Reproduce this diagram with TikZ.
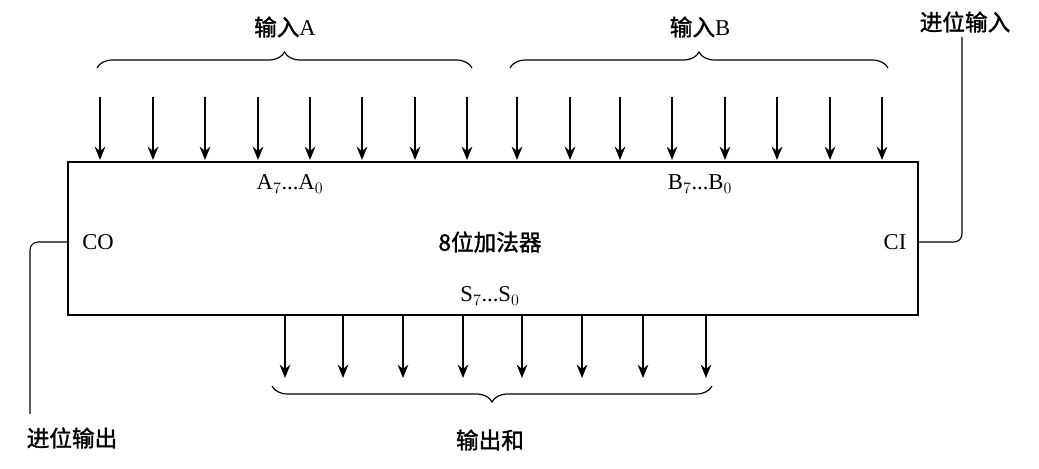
\documentclass[tikz,border=0pt]{standalone}
\usepackage{fontspec}
\setmainfont{Liberation Serif}
\newfontfamily\cjk{Noto Sans CJK SC}[FakeBold=1.5]
\usetikzlibrary{decorations.pathreplacing,arrows.meta}
\begin{document}
\begin{tikzpicture}[x=0.0264cm,y=-0.0264cm,
  inarr/.style={-{Stealth[length=10pt,width=8pt]},line width=1.5pt},
  brc/.style={decorate,decoration={brace,amplitude=12pt},line width=0.9pt},
  lbl/.style={font=\cjk\fontsize{17}{17}\selectfont},
  sig/.style={font=\fontsize{17}{17}\selectfont}]
\useasboundingbox (0,0) rectangle (1039,469);
\node[draw,line width=1.4pt,minimum width=850*0.0264cm,minimum height=153*0.0264cm,inner sep=0] (box) at (493,238.5) {};
\foreach \x [count=\i] in {100,153,205,258,310,362,415,467} {\coordinate (at\i) at (\x,97); \draw[inarr] (at\i) -- (\x,160);}
\foreach \x [count=\i] in {517,570,620,672,725,777,830,882} {\coordinate (bt\i) at (\x,97); \draw[inarr] (bt\i) -- (\x,160);}
\foreach \x [count=\i] in {285,343,403,463,522,582,643,706} {\coordinate (st\i) at (\x,316); \draw[inarr] (st\i) -- (\x,378);}
\coordinate (ba1) at (97,68); \coordinate (ba2) at (472,68);
\coordinate (bb1) at (510,68); \coordinate (bb2) at (888,68);
\coordinate (bs1) at (712,386); \coordinate (bs2) at (272,386);
\draw[brc] (ba1) -- (ba2);
\draw[brc] (bb1) -- (bb2);
\draw[brc] (bs1) -- (bs2);
\node[lbl] (la) at (285,27) {输入\textrm{A}};
\node[lbl] (lb) at (700,27) {输入\textrm{B}};
\node[lbl] (lsum) at (490,440) {输出和};
\node[lbl] (cin) at (965,22) {进位输入};
\node[lbl] (cout) at (72,438) {进位输出};
\node[lbl] (name) at (490,242) {8位加法器};
\node[sig] (ai) at (290,184) {A$_7$...A$_0$};
\node[sig] (bi) at (700,184) {B$_7$...B$_0$};
\node[sig] (si) at (490,296) {S$_7$...S$_0$};
\node[sig] (co) at (98,242) {CO};
\node[sig] (ci) at (895,242) {CI};
\draw[line width=0.8pt,rounded corners=6pt] (box.east |- ci) -- (962,242) -- (cin.south -| 962,0);
\draw[line width=0.8pt,rounded corners=6pt] (box.west |- co) -- (30,242) -- (30,414);
\end{tikzpicture}
\end{document}
